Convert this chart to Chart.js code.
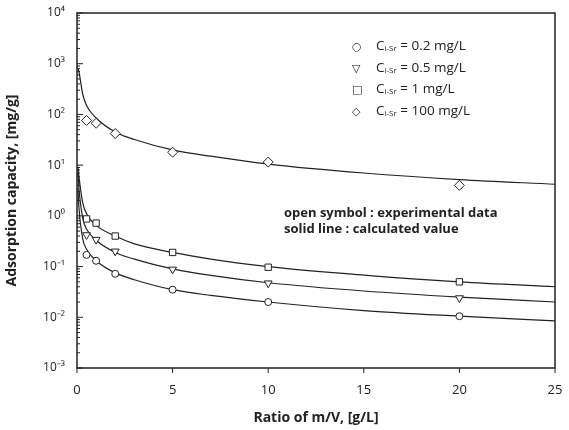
<!DOCTYPE html>
<html>
<head>
<meta charset="utf-8">
<script src="https://cdn.jsdelivr.net/npm/chart.js@4"></script>
<style>
  body { margin: 0; background: #fff; font-family: "Open Sans", "Noto Sans", sans-serif; }
  #wrap { position: relative; width: 569px; height: 430px; }
  .legend { position: absolute; left: 352px; top: 36px; font-size: 13.5px; line-height: 19.5px; color: #222; }
  .legend .sym { display: inline-block; width: 24px; font-family: "DejaVu Sans", sans-serif; font-size: 11px; }
  .legend sub { font-size: 8px; vertical-align: -1px; }
  .note { position: absolute; left: 284px; top: 204px; font-size: 13px; font-weight: bold; line-height: 16px; color: #222; }
</style>
</head>
<body>
<div id="wrap">
  <canvas id="chart" width="569" height="430"></canvas>
  <div class="legend">
    <div><span class="sym">○</span>C<sub>i-Sr</sub> = 0.2 mg/L</div>
    <div><span class="sym">▽</span>C<sub>i-Sr</sub> = 0.5 mg/L</div>
    <div><span class="sym">□</span>C<sub>i-Sr</sub> = 1 mg/L</div>
    <div><span class="sym">◇</span>C<sub>i-Sr</sub> = 100 mg/L</div>
  </div>
  <div class="note">open symbol : experimental data<br>solid line : calculated value</div>
</div>
<script>
const expX = [0.5, 1, 2, 5, 10, 20];
const exp02 = [0.17, 0.13, 0.072, 0.035, 0.02, 0.0105];
const exp05 = [0.42, 0.34, 0.2, 0.088, 0.047, 0.024];
const exp1 = [0.87, 0.72, 0.4, 0.19, 0.097, 0.05];
const exp100 = [76, 67, 42, 18, 11.5, 4];

const calcX = [0.05, 0.1, 0.3, 0.5, 1, 2, 3, 5, 7, 10, 15, 20, 25];
const calc02 = [3.5, 1.5, 0.35, 0.22, 0.13, 0.075, 0.055, 0.035, 0.027, 0.02, 0.0135, 0.0105, 0.0085];
const calc05 = [7, 3.5, 0.9, 0.55, 0.33, 0.19, 0.14, 0.09, 0.067, 0.048, 0.033, 0.025, 0.02];
const calc1 = [9, 6, 1.8, 1.1, 0.65, 0.4, 0.28, 0.19, 0.14, 0.1, 0.068, 0.05, 0.04];
const calc100 = [800, 700, 250, 150, 85, 45, 32, 20, 15, 10.5, 7, 5.2, 4.2];

const xTicks = [0, 5, 10, 15, 20, 25];
const yPowers = [-3, -2, -1, 0, 1, 2, 3, 4];

const sup = { "-": "⁻", "0": "⁰", "1": "¹", "2": "²", "3": "³", "4": "⁴" };
function powLabel(p) {
  return "10" + String(p).split("").map((c) => sup[c]).join("");
}

function pts(xs, ys) {
  return xs.map((x, i) => ({ x: x, y: ys[i] }));
}

function lineSet(ys) {
  return { type: "line", data: pts(calcX, ys), borderColor: "#222", borderWidth: 1.2,
    pointRadius: 0, tension: 0.4, cubicInterpolationMode: "monotone", order: 2 };
}

function markSet(ys, style, rot, r) {
  return { type: "scatter", data: pts(expX, ys), pointStyle: style, rotation: rot || 0,
    pointRadius: r || 4, borderColor: "#222", borderWidth: 1, backgroundColor: "#fff", order: 1 };
}

const frame = {
  id: "frame",
  afterDraw(chart) {
    const { ctx, chartArea: a, scales } = chart;
    ctx.save();
    ctx.strokeStyle = "#222";
    ctx.lineWidth = 1.5;
    ctx.strokeRect(a.left, a.top, a.right - a.left, a.bottom - a.top);
    ctx.lineWidth = 1;
    ctx.beginPath();
    yPowers.forEach((p) => {
      for (let m = 1; m <= 9; m++) {
        const v = m * Math.pow(10, p);
        if (p === 4 && m > 1) break;
        const y = scales.y.getPixelForValue(v);
        const len = m === 1 ? 6 : 3;
        ctx.moveTo(a.left, y);
        ctx.lineTo(a.left + len, y);
      }
    });
    xTicks.forEach((t) => {
      const x = scales.x.getPixelForValue(t);
      ctx.moveTo(x, a.bottom);
      ctx.lineTo(x, a.bottom + 5);
    });
    ctx.stroke();
    ctx.restore();
  },
};

new Chart(document.getElementById("chart"), {
  data: {
    datasets: [
      lineSet(calc02), lineSet(calc05), lineSet(calc1), lineSet(calc100),
      markSet(exp02, "circle", 0, 3.5),
      markSet(exp05, "triangle", 180, 4.5),
      markSet(exp1, "rect", 0, 4.5),
      markSet(exp100, "rectRot", 0, 5),
    ],
  },
  plugins: [frame],
  options: {
    responsive: false,
    animation: false,
    layout: { padding: { left: 0, right: 14, top: 13, bottom: 0 } },
    plugins: { legend: { display: false }, tooltip: { enabled: false } },
    scales: {
      x: {
        type: "linear", min: 0, max: 25,
        afterBuildTicks: (s) => { s.ticks = xTicks.map((v) => ({ value: v })); },
        afterFit: (s) => { s.height = 62; },
        grid: { display: false },
        border: { display: false },
        ticks: { color: "#222", font: { family: "Open Sans", size: 13 }, padding: 6 },
        title: { display: true, text: "Ratio of m/V, [g/L]", color: "#222",
          font: { family: "Open Sans", size: 14, weight: "bold" }, padding: { top: 6 } },
      },
      y: {
        type: "logarithmic", min: 0.001, max: 10000,
        afterBuildTicks: (s) => { s.ticks = yPowers.map((p) => ({ value: Math.pow(10, p) })); },
        afterFit: (s) => { s.width = 77; },
        grid: { display: false },
        border: { display: false },
        ticks: { color: "#222", font: { family: "Open Sans", size: 12 }, padding: 4,
          callback: (v) => powLabel(Math.round(Math.log10(v))) },
        title: { display: true, text: "Adsorption capacity, [mg/g]", color: "#222",
          font: { family: "Open Sans", size: 14, weight: "bold" }, padding: { bottom: 4 } },
      },
    },
  },
});
</script>
</body>
</html>
